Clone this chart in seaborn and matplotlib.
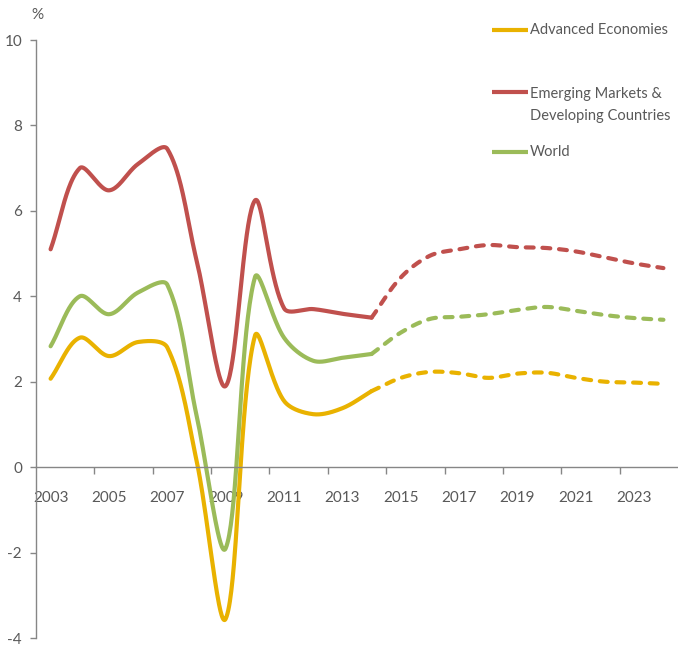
import numpy as np
import pandas as pd
import matplotlib
matplotlib.use("Agg")
import matplotlib.pyplot as plt
import seaborn as sns
from matplotlib.lines import Line2D

# ---- data ----
years = list(range(2003, 2025))
advanced = [2.07, 3.03, 2.60, 2.93, 2.80, 0.16, -3.55, 3.07, 1.55, 1.24, 1.38, 1.78,
            2.09, 2.23, 2.20, 2.09, 2.19, 2.21, 2.09, 2.00, 1.98, 1.95]
emerging = [5.10, 7.00, 6.48, 7.10, 7.45, 4.85, 1.90, 6.24, 3.72, 3.70, 3.59, 3.50,
            4.44, 4.95, 5.10, 5.20, 5.15, 5.13, 5.05, 4.91, 4.77, 4.66]
world = [2.83, 4.00, 3.58, 4.09, 4.27, 1.22, -1.90, 4.44, 3.03, 2.49, 2.56, 2.65,
         3.15, 3.47, 3.52, 3.58, 3.68, 3.75, 3.66, 3.56, 3.49, 3.45]
series_names = ["Advanced Economies", "Emerging Markets &\nDeveloping Countries", "World"]
last_actual = 2014
x_labels = [str(y) for y in range(2003, 2024, 2)]

colors = {"Advanced Economies": "#E9B200",
          "Emerging Markets &\nDeveloping Countries": "#C0504D",
          "World": "#9BBB59"}

# ---- Excel-style smoothing (Bezier, control points scaled by neighbour distances,
#      computed in screen-like units) ----
SX, SY = 29.18, 42.7  # pixels per year / per percentage point


def smooth(xs, ys, n=40, tension=1 / 3):
    P = np.column_stack([np.asarray(xs, float) * SX, np.asarray(ys, float) * SY])
    m = len(P)
    d = np.linalg.norm(np.diff(P, axis=0), axis=1)
    out = []
    for i in range(m - 1):
        if i == 0:
            c1 = P[0] + (P[1] - P[0]) * tension
        else:
            T = P[i + 1] - P[i - 1]
            c1 = P[i] + T * tension * d[i] / (d[i - 1] + d[i])
        if i + 1 == m - 1:
            c2 = P[i + 1] - (P[i + 1] - P[i]) * tension
        else:
            T = P[i + 2] - P[i]
            c2 = P[i + 1] - T * tension * d[i] / (d[i] + d[i + 1])
        t = np.linspace(0, 1, n, endpoint=(i == m - 2))[:, None]
        seg = ((1 - t) ** 3 * P[i] + 3 * t * (1 - t) ** 2 * c1
               + 3 * t ** 2 * (1 - t) * c2 + t ** 3 * P[i + 1])
        out.append(seg)
    out = np.vstack(out)
    return out[:, 0] / SX, out[:, 1] / SY


rows = []
for name, vals in zip(series_names, [advanced, emerging, world]):
    yrs = np.array(years)
    v = np.array(vals)
    for part, mask in (("actual", yrs <= last_actual), ("projection", yrs >= last_actual)):
        sx, sy = smooth(yrs[mask], v[mask])
        for k, (a, b) in enumerate(zip(sx, sy)):
            rows.append({"order": k, "year": a, "value": b, "series": name, "part": part})
df = pd.DataFrame(rows)

# ---- figure ----
sns.set_style("white")
FONT = ["Lato", "DejaVu Sans"]
plt.rcParams["font.family"] = FONT
FS = 10.5
fig = plt.figure(figsize=(6.78, 6.48), dpi=100)
ax = fig.add_axes([36 / 678, 1 - 638 / 648, 1 - 36 / 678, (638 - 40) / 648])

lw = 3.0
for name in series_names:
    sub = df[(df.series == name) & (df.part == "actual")]
    sns.lineplot(data=sub, x="year", y="value", color=colors[name], lw=lw,
                 ax=ax, estimator=None, sort=False, solid_capstyle="round")
    sub = df[(df.series == name) & (df.part == "projection")]
    sns.lineplot(data=sub, x="year", y="value", color=colors[name], lw=lw,
                 ax=ax, estimator=None, sort=False,
                 linestyle=(0, (1.9, 2.1)), dash_capstyle="round")

ax.set_xlim(2002.5, 2024.5)
ax.set_ylim(-4, 10)
ax.set_xlabel("")
ax.set_ylabel("")

gray = "#868686"
txt = "#595959"
for s in ("top", "right"):
    ax.spines[s].set_visible(False)
ax.spines["left"].set_color(gray)
ax.spines["bottom"].set_color(gray)
ax.spines["bottom"].set_position(("data", 0))
ax.spines["left"].set_linewidth(1.0)
ax.spines["bottom"].set_linewidth(1.0)

ax.set_yticks(range(-4, 11, 2))
ax.set_yticklabels([str(v) for v in range(-4, 11, 2)])
ax.tick_params(axis="y", left=True, length=4, width=1, color=gray, pad=6,
               labelsize=FS + 0.5, labelcolor=txt)

ax.set_xticks([y + 0.5 for y in range(2004, 2023, 2)])
ax.set_xticklabels([])
ax.set_xticks(list(range(2003, 2024, 2)), minor=True)
ax.set_xticklabels(x_labels, minor=True)
ax.tick_params(axis="x", which="major", bottom=True, length=5, width=1,
               color=gray, direction="out")
ax.tick_params(axis="x", which="minor", bottom=True, length=0, pad=17,
               labelsize=FS + 0.5, labelcolor=txt)

fig.text(37 / 678, 1 - 15 / 648, "%", ha="center", va="center",
         fontsize=FS + 0.5, color=txt)

# legend (manual layout to match reference)
leg_items = [("Advanced Economies", 30), ("Emerging Markets &\nDeveloping Countries", 92),
             ("World", 152)]
for name, ypx in leg_items:
    yf = 1 - ypx / 648
    fig.add_artist(Line2D([492 / 678, 528 / 678], [yf, yf], color=colors[name],
                          lw=lw, solid_capstyle="butt", transform=fig.transFigure))
    if "\n" in name:
        fig.text(530 / 678, 1 - (ypx + 13) / 648, name, ha="left", va="center",
                 fontsize=FS, color=txt, linespacing=1.75)
    else:
        fig.text(530 / 678, yf, name, ha="left", va="center",
                 fontsize=FS, color=txt)

fig.savefig("out.png", dpi=100)
